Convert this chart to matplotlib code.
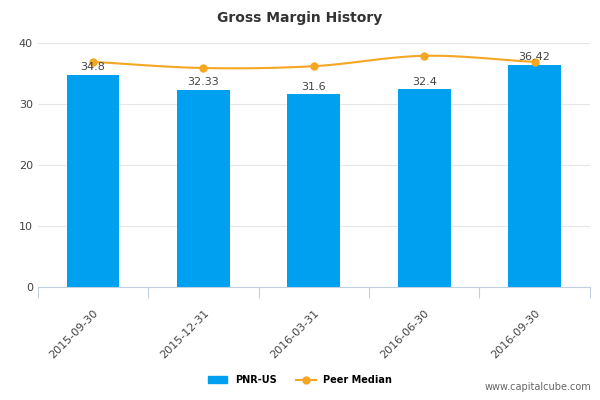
import numpy as np
import matplotlib
matplotlib.use("Agg")
import matplotlib.pyplot as plt

dates = ["2015-09-30", "2015-12-31", "2016-03-31", "2016-06-30", "2016-09-30"]
pnr = [34.8, 32.33, 31.6, 32.4, 36.42]
bar_labels = ["34.8", "32.33", "31.6", "32.4", "36.42"]
peer = [36.9, 35.9, 36.2, 37.9, 36.9]

BLUE = "#00a0f0"
ORANGE = "#f5a623"

fig = plt.figure(figsize=(6, 4), dpi=100)
ax = fig.add_axes([0.063, 0.2825, 0.92, 0.61])

x = np.arange(len(dates))
ax.bar(x, pnr, width=0.48, color=BLUE, zorder=2)
for xi, v, t in zip(x, pnr, bar_labels):
    ax.text(xi, v + 0.4, t, ha="center", va="bottom", fontsize=8, color="#444444", zorder=4)

# smooth curve through peer points (cubic Hermite, Catmull-Rom tangents)
p = np.array(peer)
m = np.gradient(p)
xs, ys = [], []
for i in range(len(p) - 1):
    t = np.linspace(0, 1, 30)
    h00 = 2*t**3 - 3*t**2 + 1; h10 = t**3 - 2*t**2 + t
    h01 = -2*t**3 + 3*t**2; h11 = t**3 - t**2
    xs.append(i + t)
    ys.append(h00*p[i] + h10*m[i] + h01*p[i+1] + h11*m[i+1])
ax.plot(np.concatenate(xs), np.concatenate(ys), color=ORANGE, lw=1.5, zorder=3)
ax.plot(x, peer, "o", color=ORANGE, ms=5, zorder=3)

ax.set_xlim(-0.5, len(dates) - 0.5)
ax.set_ylim(0, 40)
ax.set_yticks([0, 10, 20, 30, 40])
ax.grid(axis="y", color="#e6e6e6", lw=0.8, zorder=0)
ax.set_axisbelow(True)
for s in ["top", "right", "left"]:
    ax.spines[s].set_visible(False)
ax.spines["bottom"].set_color("#c0d0e0")
ax.set_xticks(np.arange(len(dates) + 1) - 0.5, minor=False)
ax.set_xticklabels([])
ax.tick_params(axis="x", length=8, color="#c0d0e0")
ax.tick_params(axis="y", length=0, labelsize=8, labelcolor="#444444")
for xi, d in zip(x, dates):
    ax.text(xi, -3.5, d, rotation=45, ha="right", va="top", fontsize=8,
            color="#444444", rotation_mode="anchor")

fig.text(0.5, 0.955, "Gross Margin History", ha="center", va="center",
         fontsize=10, fontweight="bold", color="#333333")

from matplotlib.patches import Patch
from matplotlib.lines import Line2D
handles = [Patch(color=BLUE, label="PNR-US"),
           Line2D([0], [0], color=ORANGE, marker="o", ms=5, lw=1.5, label="Peer Median")]
leg = fig.legend(handles=handles, loc="center", bbox_to_anchor=(0.5, 0.05), ncol=2,
                 frameon=False, prop={"size": 7, "weight": "bold"}, handlelength=2)
fig.text(0.985, 0.02, "www.capitalcube.com", ha="right", va="bottom",
         fontsize=7, color="#666666")

fig.savefig("out.png", dpi=100)
